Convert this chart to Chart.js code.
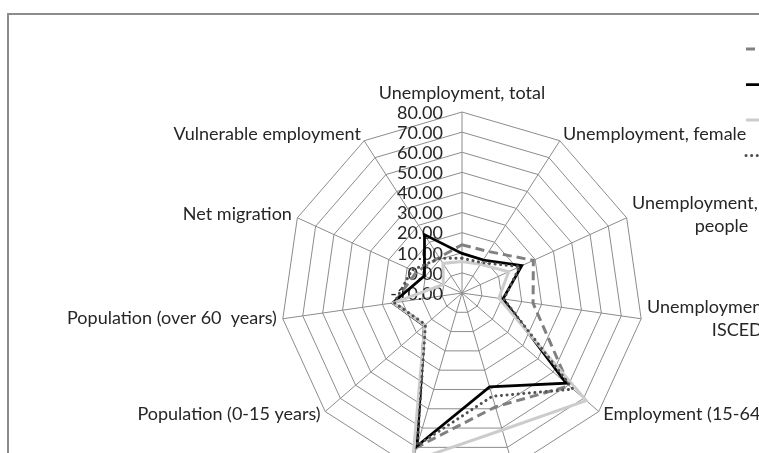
<!DOCTYPE html>
<html>
<head>
<meta charset="utf-8">
<script src="https://cdn.jsdelivr.net/npm/chart.js@4.4.1/dist/chart.umd.min.js"></script>
<style>
  html, body { margin: 0; padding: 0; background: #fff; overflow: hidden; }
  #wrap { position: relative; width: 759px; height: 453px; overflow: hidden; }
  #frame { position: absolute; left: 7px; top: 13px; width: 900px; height: 600px; border: 2px solid #8c8c8c; box-sizing: border-box; }
  #myGraph { position: absolute; left: 0; top: 0; }
</style>
</head>
<body>
<div id="wrap">
  <div id="frame"></div>
  <canvas id="myGraph" width="759" height="520"></canvas>
</div>
<script>
// axis categories (clockwise from the top)
var categories = [
    'Unemployment, total',
    'Unemployment, female',
    ['Unemployment, young', 'people'],
    ['Unemployment, low skilled', 'ISCED 0-2'],
    'Employment (15-64 years)',
    'Employment (55-64 years)',
    'GDP per capita',
    'Population (0-15 years)',
    'Population (over 60  years)',
    'Net migration',
    'Vulnerable employment'
];

var seriesNames = ['Series 1', 'Series 2', 'Series 3', 'Series 4'];

// values
var series1 = [14.0, 14.5, 29.0, 25.7, 60.5, 49.0, 70.0, 14.5, 24.0, 15.0, 11.0];
var series2 = [9.7, 9.5, 22.7, 10.6, 58.5, 38.7, 69.3, 14.8, 24.8, 10.5, 24.5];
var series3 = [5.6, 7.0, 15.5, 8.5, 71.7, 61.0, 77.0, 14.5, 24.5, 0.2, 7.5];
var series4 = [7.3, 8.0, 21.6, 11.0, 63.0, 43.5, 69.0, 14.0, 24.0, 17.4, 10.5];

var scaleMin = -10;
var scaleMax = 80;
var scaleStep = 10;

var textFont = '18px Lato';
var textColor = '#262626';

// tick labels: right aligned just left of the vertical axis
var tickLabels = {
    id: 'tickLabels',
    beforeDatasetsDraw: function(chart) {
        var s = chart.scales.r;
        var ctx = chart.ctx;
        ctx.save();
        ctx.font = textFont;
        ctx.fillStyle = textColor;
        ctx.textAlign = 'right';
        ctx.textBaseline = 'middle';
        s.ticks.forEach(function(t) {
            var d = s.getDistanceFromCenterForValue(t.value);
            ctx.fillText(t.value.toFixed(2), s.xCenter - 19, s.yCenter - d + 1);
        });
        ctx.restore();
    }
};

// category labels outside the outer polygon, lines centred like Excel does
var axisLabels = {
    id: 'axisLabels',
    beforeDatasetsDraw: function(chart) {
        var s = chart.scales.r;
        var ctx = chart.ctx;
        var lh = 23;
        ctx.save();
        ctx.font = textFont;
        ctx.fillStyle = textColor;
        ctx.textAlign = 'center';
        ctx.textBaseline = 'middle';
        categories.forEach(function(lab, i) {
            var lines = Array.isArray(lab) ? lab : [lab];
            var p = s.getPointPosition(i, s.drawingArea + 6);
            var w = 0;
            lines.forEach(function(l) { w = Math.max(w, ctx.measureText(l).width); });
            var dx = p.x - s.xCenter;
            var left, top;
            if (Math.abs(dx) < 2) {
                left = p.x - w / 2;
                top = p.y - lines.length * lh - 1;
            } else {
                left = dx > 0 ? p.x : p.x - w;
                top = p.y - lines.length * lh / 2 - 1;
            }
            lines.forEach(function(l, k) {
                ctx.fillText(l, left + w / 2, top + lh * k + lh / 2);
            });
        });
        ctx.restore();
    }
};

// legend samples at the right edge (text runs off the picture)
var legendX = 746;
var legendY = 49;
var legendGap = 35.5;
var sideLegend = {
    id: 'sideLegend',
    afterDraw: function(chart) {
        var ctx = chart.ctx;
        ctx.save();
        chart.data.datasets.forEach(function(ds, i) {
            var y = legendY + i * legendGap;
            ctx.strokeStyle = ds.borderColor;
            ctx.lineWidth = ds.borderWidth;
            ctx.lineCap = ds.borderCapStyle || 'butt';
            ctx.setLineDash(ds.borderDash || []);
            ctx.beginPath();
            ctx.moveTo(legendX, y);
            ctx.lineTo(legendX + 40, y);
            ctx.stroke();
            ctx.setLineDash([]);
            ctx.font = textFont;
            ctx.fillStyle = textColor;
            ctx.textBaseline = 'middle';
            ctx.fillText(ds.label, legendX + 46, y);
        });
        ctx.restore();
    }
};

var ctx = document.getElementById('myGraph');
var myGraph = new Chart(ctx, {
    type: 'radar',
    data: {
        labels: categories,
        datasets: [{
            label: seriesNames[0],
            data: series1,
            borderColor: '#808080',
            borderWidth: 3,
            borderDash: [9, 5],
            order: 4
        }, {
            label: seriesNames[1],
            data: series2,
            borderColor: '#000000',
            borderWidth: 2.75,
            order: 3
        }, {
            label: seriesNames[2],
            data: series3,
            borderColor: '#cccccc',
            borderWidth: 3,
            order: 2
        }, {
            label: seriesNames[3],
            data: series4,
            borderColor: '#505050',
            borderWidth: 3,
            borderDash: [0.1, 5.5],
            borderCapStyle: 'round',
            order: 1
        }]
    },
    options: {
        responsive: false,
        animation: false,
        layout: {
            padding: { left: 281, right: 116, top: 112, bottom: 46 }
        },
        elements: {
            line: { tension: 0, fill: false },
            point: { radius: 0, hoverRadius: 0 }
        },
        plugins: {
            legend: { display: false },
            tooltip: { enabled: false }
        },
        scales: {
            r: {
                min: scaleMin,
                max: scaleMax,
                ticks: { stepSize: scaleStep, display: false },
                grid: { color: '#8c8c8c', lineWidth: 1 },
                angleLines: { color: '#8c8c8c', lineWidth: 1 },
                pointLabels: { display: false }
            }
        }
    },
    plugins: [tickLabels, axisLabels, sideLegend]
});
</script>
</body>
</html>
